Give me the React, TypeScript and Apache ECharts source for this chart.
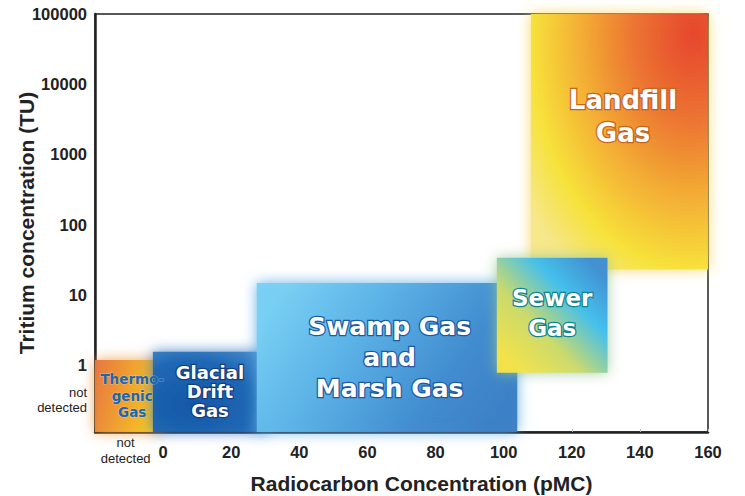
import React, { useEffect, useRef } from 'react';
import * as echarts from 'echarts';

// ---- data (pMC on x, tritium TU on y) ----
const regionLabels = ['Thermo-\ngenic\nGas', 'Glacial\nDrift\nGas', 'Swamp Gas\nand\nMarsh Gas', 'Sewer\nGas', 'Landfill\nGas'];
const PMC_NOT_DETECTED = -20;
const TU_NOT_DETECTED = 0.112;
const pmcLow = [PMC_NOT_DETECTED, -3, 27.5, 98, 108];
const pmcHigh = [-0.5, 30.5, 104, 130.5, 160];
const tuLow = [TU_NOT_DETECTED, TU_NOT_DETECTED, TU_NOT_DETECTED, 0.78, 23];
const tuHigh = [1.19, 1.55, 14.8, 34, 100000];

const xTickValues = [0, 20, 40, 60, 80, 100, 120, 140, 160];
const xNotDetectedLabelAt = -11;
const yTickExponents = [0, 1, 2, 3, 4, 5];
const yNotDetectedLabelAt = -0.5;
const xMax = 160;
const yMaxTU = 100000;

// ---- styles ----
const regionStyles: any[] = [
  {
    fill: { type: 'linear', x: 0, y: 0.2, x2: 1, y2: 0.5, colorStops: [
      { offset: 0, color: '#e8773d' }, { offset: 0.5, color: '#f0a12f' }, { offset: 1, color: '#f8c91b' }] },
    glow: 'rgba(238,150,60,0.9)', z: 2,
    textFill: '#1d66b3', textStroke: 'rgba(255,255,255,0.35)', strokeW: 1, shadow: 'rgba(0,0,0,0)',
    fontSize: 13.5, lineHeight: 16.5, lx: 0.56, ly: 0.5,
  },
  {
    fill: { type: 'radial', x: 0.35, y: 0.65, r: 0.9, colorStops: [
      { offset: 0, color: '#0d55a6' }, { offset: 0.6, color: '#1d66b3' }, { offset: 1, color: '#4a8fcf' }] },
    glow: 'rgba(60,125,200,0.95)', z: 3,
    textFill: '#ffffff', textStroke: '#123f86', strokeW: 2.5, shadow: '#123f86',
    fontSize: 18, lineHeight: 19, lx: 0.5, ly: 0.49,
  },
  {
    fill: { type: 'linear', x: 0, y: 0.3, x2: 1, y2: 0.7, colorStops: [
      { offset: 0, color: '#78d0f4' }, { offset: 0.35, color: '#5ab2e6' }, { offset: 0.75, color: '#3f8ace' }, { offset: 1, color: '#3a7ec4' }] },
    glow: 'rgba(90,170,230,0.95)', z: 4,
    textFill: '#ffffff', textStroke: '#1b5aa5', strokeW: 2.5, shadow: '#1b5aa5',
    fontSize: 25, lineHeight: 31, lx: 0.51, ly: 0.5,
  },
  {
    fill: { type: 'linear', x: 0.1, y: 0.9, x2: 0.9, y2: 0.1, colorStops: [
      { offset: 0, color: '#f6e444' }, { offset: 0.35, color: '#cddb6a' }, { offset: 0.7, color: '#3fbfee' }, { offset: 1, color: '#3b8fd4' }] },
    glow: 'rgba(150,200,150,0.9)', z: 5,
    textFill: '#ffffff', textStroke: '#12848f', strokeW: 2.5, shadow: '#12848f',
    fontSize: 23, lineHeight: 30, lx: 0.5, ly: 0.48,
  },
  {
    fill: { type: 'radial', x: 0.92, y: 0.08, r: 1.15, colorStops: [
      { offset: 0, color: '#e5392a' }, { offset: 0.3, color: '#ec7030' }, { offset: 0.55, color: '#f3ab33' }, { offset: 0.8, color: '#f7e238' }, { offset: 1, color: '#f6e88c' }] },
    glow: 'rgba(247,210,80,0.9)', z: 1,
    textFill: '#ffffff', textStroke: '#c8621d', strokeW: 2.5, shadow: '#c8621d',
    fontSize: 26, lineHeight: 33, lx: 0.52, ly: 0.4,
  },
];

const axisFont = '"Liberation Sans", Arial, sans-serif';
const regionFont = '"DejaVu Sans", sans-serif';

export default function App() {
  const ref = useRef<HTMLDivElement>(null);

  useEffect(() => {
    if (!ref.current) return;
    const chart = echarts.init(ref.current, null, { renderer: 'svg' });

    const data = regionLabels.map((_, i) => [
      pmcLow[i], pmcHigh[i], Math.log10(tuLow[i]), Math.log10(tuHigh[i]),
    ]);

    const option: any = {
      animation: false,
      backgroundColor: '#ffffff',
      grid: {
        left: 95, right: 37, top: 14, bottom: 64,
        outerBoundsMode: 'none',
        containLabel: false,
        show: true, borderColor: '#222', borderWidth: 1.5, backgroundColor: 'transparent',
      },
      xAxis: {
        type: 'value',
        min: PMC_NOT_DETECTED,
        max: xMax,
        interval: 20,
        splitLine: { show: false },
        axisLine: { show: true, onZero: false, lineStyle: { color: '#222', width: 2.5 } },
        axisTick: { show: true, inside: true, length: 3, lineStyle: { color: '#bbb' }, customValues: xTickValues },
        axisLabel: {
          customValues: [xNotDetectedLabelAt, ...xTickValues],
          margin: 2,
          formatter: (v: number) => (v === xNotDetectedLabelAt ? '{nd|not\ndetected}' : '{num|' + v + '}'),
          rich: {
            nd: { fontFamily: axisFont, fontSize: 13, lineHeight: 16, color: '#222', fontWeight: 'normal' },
            num: { fontFamily: axisFont, fontSize: 16.5, lineHeight: 36, color: '#222', fontWeight: 'bold' },
          },
        },
        name: 'Radiocarbon Concentration (pMC)',
        nameLocation: 'middle',
        nameGap: 41,
        nameMoveOverlap: false,
        nameTextStyle: { fontFamily: axisFont, fontSize: 21, fontWeight: 'bold', color: '#222', padding: [0, 0, 0, 40] },
      },
      yAxis: {
        type: 'value',
        min: Math.log10(TU_NOT_DETECTED),
        max: Math.log10(yMaxTU),
        splitLine: { show: false },
        axisLine: { show: true, onZero: false, lineStyle: { color: '#222', width: 2.5 } },
        axisTick: { show: false },
        axisLabel: {
          customValues: [yNotDetectedLabelAt, ...yTickExponents],
          margin: 8,
          formatter: (v: number) => (v === yNotDetectedLabelAt ? '{nd|not\ndetected}' : '{num|' + Math.round(Math.pow(10, v)) + '}'),
          rich: {
            nd: { fontFamily: axisFont, fontSize: 13, lineHeight: 15, color: '#222', fontWeight: 'normal', align: 'right' },
            num: { fontFamily: axisFont, fontSize: 16.5, color: '#222', fontWeight: 'bold', align: 'right' },
          },
        },
        name: 'Tritium concentration (TU)',
        nameLocation: 'middle',
        nameGap: 58,
        nameMoveOverlap: false,
        nameTextStyle: { fontFamily: axisFont, fontSize: 21, fontWeight: 'bold', color: '#222' },
      },
      series: [
        {
          type: 'custom',
          clip: false,
          data,
          renderItem: (params: any, api: any) => {
            const i = params.dataIndex;
            const st = regionStyles[i];
            const p0 = api.coord([api.value(0), api.value(3)]);
            const p1 = api.coord([api.value(1), api.value(2)]);
            const w = p1[0] - p0[0];
            const h = p1[1] - p0[1];
            return {
              type: 'group',
              children: [
                {
                  type: 'rect',
                  z2: st.z,
                  shape: { x: p0[0], y: p0[1], width: w, height: h },
                  style: { fill: st.fill, shadowBlur: 14, shadowColor: st.glow, opacity: 0.96 },
                },
                {
                  type: 'text',
                  z2: 100,
                  x: p0[0] + w * st.lx,
                  y: p0[1] + h * st.ly,
                  style: {
                    text: regionLabels[i],
                    fill: st.textFill,
                    stroke: st.textStroke,
                    lineWidth: st.strokeW,
                    fontFamily: regionFont,
                    fontWeight: 'bold',
                    fontSize: st.fontSize,
                    lineHeight: st.lineHeight,
                    align: 'center',
                    verticalAlign: 'middle',
                    textShadowColor: st.shadow,
                    textShadowOffsetX: 1.5,
                    textShadowOffsetY: 1.5,
                    textShadowBlur: 0,
                  },
                },
              ],
            };
          },
        },
      ],
    };

    chart.setOption(option);
    return () => chart.dispose();
  }, []);

  return <div ref={ref} style={{ position: 'fixed', left: 0, top: 0, width: 745, height: 496, background: '#fff' }} />;
}
